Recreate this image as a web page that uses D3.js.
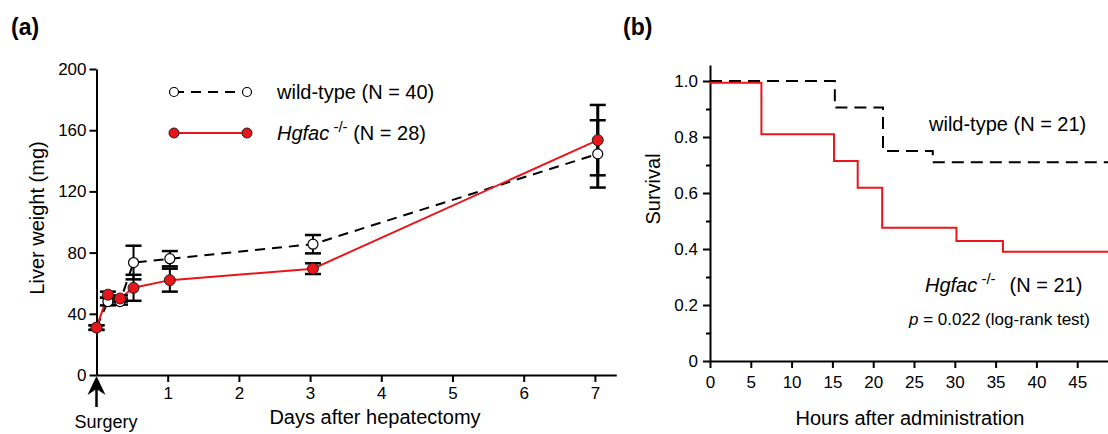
<!DOCTYPE html>
<html>
<head>
<meta charset="utf-8">
<script src="https://cdn.jsdelivr.net/npm/d3@7/dist/d3.min.js"></script>
<style>
  body { margin: 0; background: #fff; }
  svg { font-family: "Liberation Sans", Arial, sans-serif; }
  .axis path, .axis line { stroke: #000; stroke-width: 2; }
  .axis text { font-size: 17px; fill: #000; }
</style>
</head>
<body>
<div class="chart"></div>
<script>
// panel (a) data: liver weight after hepatectomy
var days = [0, 0.16, 0.33, 0.52, 1.03, 3.04, 7.04];
var wtWeight = [31, 48, 48, 73.5, 76, 85.5, 144.5];
var wtErr = [1.5, 2.5, 2, 11, 5, 6, 22];
var koWeight = [31, 52.5, 50, 57, 62, 69.5, 153.5];
var koErr = [1.5, 2, 2, 8.5, 7.5, 3.5, 23];
var weightTicks = [0, 40, 80, 120, 160, 200];
var dayTicks = [1, 2, 3, 4, 5, 6, 7];

// panel (b) data: survival steps
var wtHours = [0, 15.3, 21.2, 27.3, 48.8];
var wtSurv = [1, 0.905, 0.75, 0.71, 0.71];
var koHours = [0, 6.3, 15.2, 18.1, 21.1, 30.2, 35.9, 48.8];
var koSurv = [0.994, 0.81, 0.714, 0.619, 0.476, 0.429, 0.39, 0.39];
var survTicks = [0, 0.2, 0.4, 0.6, 0.8, 1.0];
var survMinor = [0.1, 0.3, 0.5, 0.7, 0.9];
var hourTicks = [0, 5, 10, 15, 20, 25, 30, 35, 40, 45];

var red = "#e8161b";

var svg = d3.select(".chart").append("svg")
    .attr("width", 1108)
    .attr("height", 434);

// ---------- panel (a) ----------
var xA = d3.scaleLinear().domain([0, 7.3]).range([96.5, 96.5 + 7.3 * 71.2]);
var yA = d3.scaleLinear().domain([0, 200]).range([375, 69]);

svg.append("g")
    .attr("class", "axis")
    .attr("transform", "translate(0,375)")
    .call(d3.axisBottom(xA).tickValues(dayTicks).tickSize(7).tickPadding(5).tickSizeOuter(0).tickFormat(d3.format("d")));

svg.append("g")
    .attr("class", "axis")
    .attr("transform", "translate(96.5,0)")
    .call(d3.axisLeft(yA).tickValues(weightTicks).tickSize(7).tickPadding(3).tickSizeOuter(0));

var wtPts = days.map(function (d, i) { return {x: d, y: wtWeight[i], e: wtErr[i]}; });
var koPts = days.map(function (d, i) { return {x: d, y: koWeight[i], e: koErr[i]}; });

var lineA = d3.line()
    .x(function (d) { return xA(d.x); })
    .y(function (d) { return yA(d.y); });

svg.append("path")
    .datum(wtPts)
    .attr("d", lineA)
    .attr("fill", "none")
    .attr("stroke", "#000")
    .attr("stroke-width", 2)
    .attr("stroke-dasharray", "10,7");

svg.append("path")
    .datum(koPts)
    .attr("d", lineA)
    .attr("fill", "none")
    .attr("stroke", red)
    .attr("stroke-width", 2);

// error bars
function errorBars(pts, cls) {
    var g = svg.append("g").attr("class", cls);
    g.selectAll("line.v")
        .data(pts)
        .enter().append("line")
        .attr("class", "v")
        .attr("x1", function (d) { return xA(d.x); })
        .attr("x2", function (d) { return xA(d.x); })
        .attr("y1", function (d) { return yA(d.y - d.e); })
        .attr("y2", function (d) { return yA(d.y + d.e); })
        .attr("stroke", "#000")
        .attr("stroke-width", function (d) { return d.x > 6 ? 3 : 2; });
    [-1, 1].forEach(function (s) {
        g.selectAll("line.c" + (s > 0 ? "p" : "m"))
            .data(pts)
            .enter().append("line")
            .attr("x1", function (d) { return xA(d.x) - 8; })
            .attr("x2", function (d) { return xA(d.x) + 8; })
            .attr("y1", function (d) { return yA(d.y + s * d.e); })
            .attr("y2", function (d) { return yA(d.y + s * d.e); })
            .attr("stroke", "#000")
            .attr("stroke-width", 2.5);
    });
}
errorBars(wtPts, "err-wt");
errorBars(koPts, "err-ko");

svg.selectAll(".dot-wt")
    .data(wtPts)
    .enter().append("circle")
    .attr("class", "dot-wt")
    .attr("cx", function (d) { return xA(d.x); })
    .attr("cy", function (d) { return yA(d.y); })
    .attr("r", 5)
    .attr("fill", "#fff")
    .attr("stroke", "#000")
    .attr("stroke-width", 1.2);

svg.selectAll(".dot-ko")
    .data(koPts)
    .enter().append("circle")
    .attr("class", "dot-ko")
    .attr("cx", function (d) { return xA(d.x); })
    .attr("cy", function (d) { return yA(d.y); })
    .attr("r", 5.5)
    .attr("fill", red)
    .attr("stroke", "#222")
    .attr("stroke-width", 1);

// legend (a)
svg.append("line")
    .attr("x1", 174).attr("x2", 247).attr("y1", 92).attr("y2", 92)
    .attr("stroke", "#000").attr("stroke-width", 2).attr("stroke-dasharray", "10,7");
svg.append("line")
    .attr("x1", 174).attr("x2", 247).attr("y1", 133).attr("y2", 133)
    .attr("stroke", red).attr("stroke-width", 2);
[174, 247].forEach(function (x) {
    svg.append("circle").attr("cx", x).attr("cy", 92).attr("r", 4.5)
        .attr("fill", "#fff").attr("stroke", "#000").attr("stroke-width", 1.2);
    svg.append("circle").attr("cx", x).attr("cy", 133).attr("r", 5)
        .attr("fill", red).attr("stroke", "#222").attr("stroke-width", 1);
});
svg.append("text")
    .attr("x", 277).attr("y", 99)
    .style("font-size", "20px")
    .text("wild-type (N = 40)");
var leg2 = svg.append("text")
    .attr("x", 277).attr("y", 140)
    .style("font-size", "20px");
leg2.append("tspan").style("font-style", "italic").text("Hgfac");
leg2.append("tspan").attr("dy", -8).style("font-size", "15px").text(" -/-");
leg2.append("tspan").attr("dy", 8).text(" (N = 28)");

// axis titles (a)
svg.append("text")
    .attr("transform", "translate(44,218) rotate(-90)")
    .attr("text-anchor", "middle")
    .style("font-size", "20px")
    .text("Liver weight (mg)");
svg.append("text")
    .attr("x", 375).attr("y", 424)
    .attr("text-anchor", "middle")
    .style("font-size", "20px")
    .text("Days after hepatectomy");

// surgery arrow
var ax = xA(0);
svg.append("line")
    .attr("x1", ax).attr("x2", ax).attr("y1", 385).attr("y2", 407)
    .attr("stroke", "#000").attr("stroke-width", 2.5);
svg.append("path")
    .attr("d", "M" + ax + ",376 L" + (ax - 9) + ",395 L" + ax + ",389 L" + (ax + 9) + ",395 Z")
    .attr("fill", "#000");
svg.append("text")
    .attr("x", 106).attr("y", 428)
    .attr("text-anchor", "middle")
    .style("font-size", "18px")
    .text("Surgery");

svg.append("text")
    .attr("x", 11).attr("y", 35)
    .style("font-size", "23px")
    .style("font-weight", "bold")
    .text("(a)");

// ---------- panel (b) ----------
var xB = d3.scaleLinear().domain([0, 48.8]).range([710, 710 + 48.8 * 8.16]);
var yB = d3.scaleLinear().domain([0, 1.057]).range([361, 361 - 1.057 * 280]);

svg.append("g")
    .attr("class", "axis")
    .attr("transform", "translate(0,361)")
    .call(d3.axisBottom(xB).tickValues(hourTicks).tickSize(7).tickPadding(8).tickSizeOuter(0));

svg.append("g")
    .attr("class", "axis")
    .attr("transform", "translate(710,0)")
    .call(d3.axisLeft(yB).tickValues(survTicks).tickSize(7).tickPadding(5).tickSizeOuter(0)
        .tickFormat(function (d) { return d === 0 ? "0" : d3.format(".1f")(d); }));

svg.append("g")
    .attr("class", "axis")
    .attr("transform", "translate(710,0)")
    .call(d3.axisLeft(yB).tickValues(survMinor).tickSize(4).tickFormat("").tickSizeOuter(0))
    .select(".domain").remove();

var stepLine = d3.line()
    .curve(d3.curveStepAfter)
    .x(function (d) { return xB(d[0]); })
    .y(function (d) { return yB(d[1]); });

svg.append("path")
    .datum(d3.zip(wtHours, wtSurv))
    .attr("d", stepLine)
    .attr("fill", "none")
    .attr("stroke", "#000")
    .attr("stroke-width", 2)
    .attr("stroke-dasharray", "12,7");

svg.append("path")
    .datum(d3.zip(koHours, koSurv))
    .attr("d", stepLine)
    .attr("fill", "none")
    .attr("stroke", red)
    .attr("stroke-width", 2);

svg.append("text")
    .attr("x", 929).attr("y", 131)
    .style("font-size", "20px")
    .text("wild-type (N = 21)");
var lb2 = svg.append("text")
    .attr("x", 925).attr("y", 292)
    .style("font-size", "20px");
lb2.append("tspan").style("font-style", "italic").text("Hgfac");
lb2.append("tspan").attr("dy", -8).style("font-size", "15px").text(" -/-");
lb2.append("tspan").attr("dy", 8).attr("dx", 14).text("(N = 21)");

var pText = svg.append("text")
    .attr("x", 1090).attr("y", 325)
    .attr("text-anchor", "end")
    .style("font-size", "17px");
pText.append("tspan").style("font-style", "italic").text("p");
pText.append("tspan").text(" = 0.022 (log-rank test)");

svg.append("text")
    .attr("transform", "translate(660,189) rotate(-90)")
    .attr("text-anchor", "middle")
    .style("font-size", "20px")
    .text("Survival");
svg.append("text")
    .attr("x", 910).attr("y", 425)
    .attr("text-anchor", "middle")
    .style("font-size", "20px")
    .text("Hours after administration");

svg.append("text")
    .attr("x", 623).attr("y", 35)
    .style("font-size", "23px")
    .style("font-weight", "bold")
    .text("(b)");
</script>
</body>
</html>
